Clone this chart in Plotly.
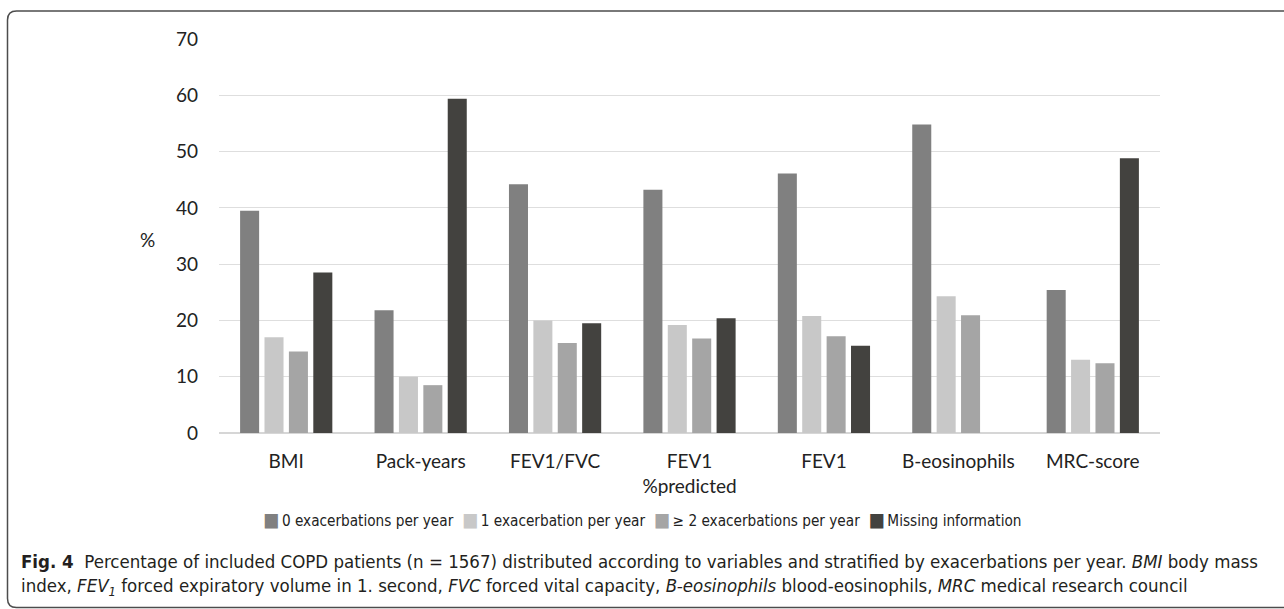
import plotly.graph_objects as go

categories = ["BMI", "Pack-years", "FEV1/FVC", "FEV1<br>%predicted", "FEV1", "B-eosinophils", "MRC-score"]
series_names = ["0 exacerbations per year", "1 exacerbation per year",
                "\u2265 2 exacerbations per year", "Missing information"]
zero_exac = [39.5, 21.8, 44.2, 43.2, 46.1, 54.8, 25.4]
one_exac = [17.0, 10.0, 20.0, 19.2, 20.8, 24.3, 13.0]
two_plus_exac = [14.5, 8.5, 16.0, 16.8, 17.2, 20.9, 12.4]
missing_info = [28.5, 59.4, 19.5, 20.4, 15.5, None, 48.8]
y_ticks = [0, 10, 20, 30, 40, 50, 60, 70]

colors = ["#808080", "#c8c8c8", "#a5a5a5", "#43423f"]
values = [zero_exac, one_exac, two_plus_exac, missing_info]

W, H = 1284, 609
ML, MR, MT, MB = 219, 124, 39, 176
PW, PH = W - ML - MR, H - MT - MB

def px(x):
    return (x - ML) / PW

def py(y):
    return (H - MB - y) / PH

fig = go.Figure()
for name, vals, col in zip(series_names, values, colors):
    fig.add_trace(go.Bar(x=categories, y=vals, name=name, marker_color=col,
                         marker_line_width=0, showlegend=False))

CHART_FONT = "Lato, Calibri, Carlito, sans-serif"
NARROW_FONT = "Liberation Sans Narrow, DejaVu Sans Condensed, Roboto Condensed, Liberation Sans, sans-serif"

fig.update_layout(
    width=W, height=H,
    margin=dict(l=ML, r=MR, t=MT, b=MB, pad=0),
    paper_bgcolor="white", plot_bgcolor="white",
    barmode="group", bargap=0.274, bargroupgap=0.22,
    font=dict(family=CHART_FONT, size=19, color="#222222"),
    showlegend=False,
)
fig.update_xaxes(type="category", showgrid=False, showline=False, ticks="",
                 ticklabelstandoff=15, tickfont=dict(size=19), zeroline=False)
fig.update_yaxes(range=[0, 70], tickvals=y_ticks, showgrid=True, gridcolor="#dedede",
                 gridwidth=1, zeroline=True, zerolinecolor="#d6d6d6", zerolinewidth=1.5,
                 showline=False, ticks="", ticklabelstandoff=20, tickfont=dict(size=19))

# y-axis unit label (horizontal, as in the reference)
fig.add_annotation(text="%", xref="paper", yref="paper", x=px(147), y=py(239),
                   showarrow=False, font=dict(size=19, family=CHART_FONT), xanchor="center", yanchor="middle")

# legend (coloured squares + labels, laid out like the reference)
sep = "\u00a0\u00a0"
legend_text = sep.join(
    f"<span style='color:{c};font-size:19px'>\u25a0</span>\u2009{n}" for n, c in zip(series_names, colors)
)
fig.add_annotation(text=legend_text, xref="paper", yref="paper", x=px(642), y=py(519),
                   xanchor="center", yanchor="middle", showarrow=False,
                   font=dict(family=NARROW_FONT, size=15.2, color="#222222"))

# caption
caption_1 = ("<b>Fig. 4</b>\u00a0\u00a0Percentage of included COPD patients (n = 1567) distributed according to variables "
             "and stratified by exacerbations per year. <i>BMI</i> body mass")
caption_2 = ("index, <i>FEV<sub>1</sub></i> forced expiratory volume in 1. second, <i>FVC</i> forced vital capacity, "
             "<i>B-eosinophils</i> blood-eosinophils, <i>MRC</i> medical research council")
for txt, yy in [(caption_1, 561), (caption_2, 587)]:
    fig.add_annotation(text=txt, xref="paper", yref="paper", x=px(19), y=py(yy),
                       xanchor="left", yanchor="middle", align="left", showarrow=False,
                       font=dict(family=NARROW_FONT, size=18.5, color="#231f20"))

# rounded frame around the figure
L, T, R, B, r = 7.5, 11, 1300, 607.5, 9
path = (f"M {px(R)} {py(T)} L {px(L + r)} {py(T)} Q {px(L)} {py(T)} {px(L)} {py(T + r)} "
        f"L {px(L)} {py(B - r)} Q {px(L)} {py(B)} {px(L + r)} {py(B)} L {px(R)} {py(B)}")
fig.add_shape(type="path", path=path, xref="paper", yref="paper",
              line=dict(color="#4d4d4d", width=1.5), layer="above")

fig.write_html("out.html", config={"displayModeBar": False},
               post_script="document.body.style.margin='0';document.documentElement.style.overflow='hidden';")
